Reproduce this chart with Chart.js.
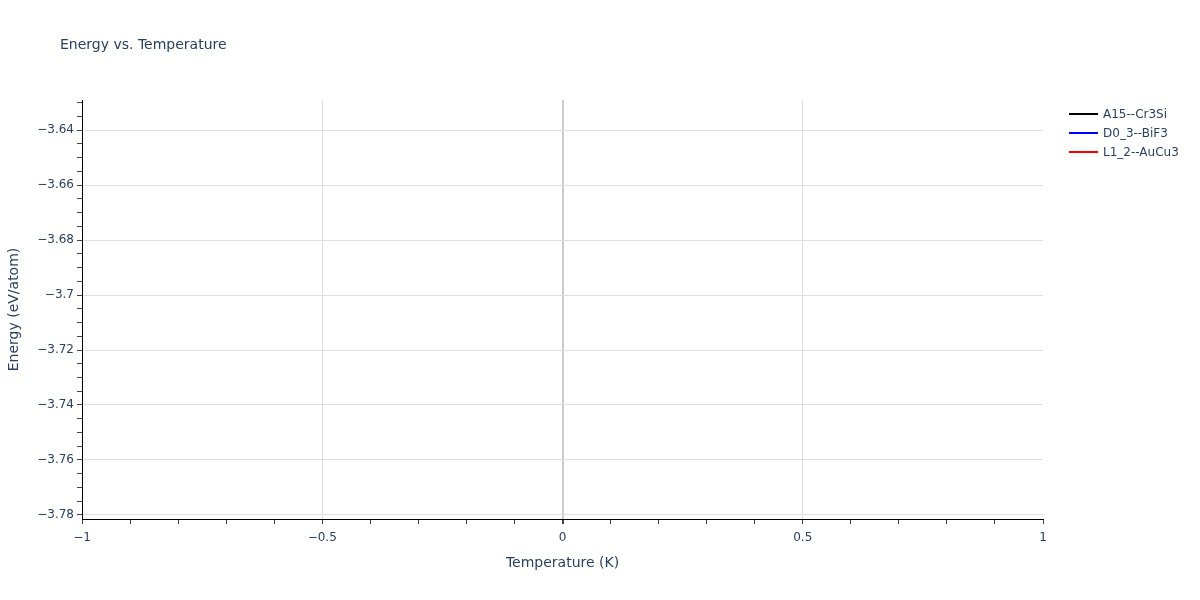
<!DOCTYPE html>
<html>
<head>
<meta charset="utf-8">
<title>Energy vs. Temperature</title>
<script src="https://cdn.jsdelivr.net/npm/chart.js@4"></script>
<style>
    body { margin: 0; background: #fff; }
    #wrap { width: 1200px; height: 600px; position: relative; }
</style>
</head>
<body>
<div id="wrap"><canvas id="energyChart"></canvas></div>
<script>
// series: one point each at T = 0 (lines only, so nothing shows)
const seriesNames = ['A15--Cr3Si', 'D0_3--BiF3', 'L1_2--AuCu3'];
const seriesColors = ['#000000', '#0000ff', '#ff0000'];
const temperatures = [0];
const energyA15 = [-3.7746];
const energyD03 = [-3.6359];
const energyL12 = [-3.7053];

// axes
const xRange = [-1, 1];
const yRange = [-3.7815, -3.629];
const xTickLabels = [-1, -0.5, 0, 0.5, 1];
const yTickLabels = [-3.78, -3.76, -3.74, -3.72, -3.7, -3.68, -3.66, -3.64];
const xMinorStep = 0.1;
const yMinorStep = 0.005;

const textColor = '#2a3f5f';
const fontFamily = '"DejaVu Sans", Verdana, sans-serif';

function toPoints(xs, ys) {
    return xs.map((x, i) => ({ x: x, y: ys[i] }));
}

function isMajor(v, majors) {
    return majors.some(m => Math.abs(m - v) < 1e-9);
}

function minorTicks(lo, hi, step) {
    const out = [];
    const n = Math.round((hi - lo) / step);
    for (let i = 0; i <= n; i++) {
        out.push({ value: Math.round((lo + i * step) * 10000) / 10000 });
    }
    return out;
}

function fmt(v) {
    const s = String(parseFloat(Math.abs(v).toFixed(3)));
    return v < -1e-9 ? '\u2212' + s : s;
}

const energyValues = [energyA15, energyD03, energyL12];

// title + legend drawn like plotly's
const overlayPlugin = {
    id: 'overlay',
    afterDraw(chart) {
        const ctx = chart.ctx;
        ctx.save();
        ctx.fillStyle = textColor;
        ctx.textBaseline = 'middle';
        ctx.textAlign = 'left';
        ctx.font = '14px ' + fontFamily;
        ctx.fillText('Energy vs. Temperature', 60, 45);

        ctx.font = '12px ' + fontFamily;
        chart.data.datasets.forEach((ds, i) => {
            const y = 114 + i * 19;
            ctx.strokeStyle = ds.borderColor;
            ctx.lineWidth = 2;
            ctx.beginPath();
            ctx.moveTo(1069, y);
            ctx.lineTo(1098, y);
            ctx.stroke();
            ctx.fillStyle = textColor;
            ctx.fillText(ds.label, 1103, y + 1);
        });
        ctx.restore();
    }
};

const ctx = document.getElementById('energyChart').getContext('2d');
new Chart(ctx, {
    type: 'scatter',
    data: {
        datasets: seriesNames.map((name, i) => ({
            label: name,
            data: toPoints(temperatures, energyValues[i]),
            borderColor: seriesColors[i],
            backgroundColor: seriesColors[i],
            showLine: true,
            borderWidth: 2,
            pointRadius: 0
        }))
    },
    options: {
        responsive: true,
        maintainAspectRatio: false,
        animation: false,
        layout: { padding: { left: 0, top: 100, right: 157, bottom: 0 } },
        plugins: {
            legend: { display: false },
            title: { display: false },
            tooltip: { enabled: false }
        },
        scales: {
            x: {
                type: 'linear',
                min: xRange[0],
                max: xRange[1],
                afterFit: function (scale) { scale.height = 81; },
                afterBuildTicks: function (scale) {
                    scale.ticks = minorTicks(xRange[0], xRange[1], xMinorStep);
                },
                border: { display: true, color: '#000000', width: 1 },
                grid: {
                    drawTicks: true,
                    tickLength: 5,
                    tickColor: '#444444',
                    color: function (c) {
                        const v = c.tick ? c.tick.value : 0;
                        if (!isMajor(v, xTickLabels)) return 'rgba(0,0,0,0)';
                        if (Math.abs(v - xRange[0]) < 1e-9 || Math.abs(v - xRange[1]) < 1e-9) return 'rgba(0,0,0,0)';
                        if (Math.abs(v) < 1e-9) return '#cccccc';
                        return '#dedede';
                    },
                    lineWidth: function (c) {
                        const v = c.tick ? c.tick.value : 1;
                        return Math.abs(v) < 1e-9 ? 2 : 1;
                    }
                },
                ticks: {
                    autoSkip: false,
                    maxRotation: 0,
                    padding: 7,
                    color: textColor,
                    font: { family: fontFamily, size: 12 },
                    callback: function (v) { return isMajor(v, xTickLabels) ? fmt(v) : ''; }
                },
                title: {
                    display: true,
                    text: 'Temperature (K)',
                    color: textColor,
                    font: { family: fontFamily, size: 14 },
                    padding: { top: 0, bottom: 28.6 }
                }
            },
            y: {
                type: 'linear',
                min: yRange[0],
                max: yRange[1],
                afterFit: function (scale) { scale.width = 82; },
                afterBuildTicks: function (scale) {
                    scale.ticks = minorTicks(-3.78, -3.63, yMinorStep);
                },
                border: { display: true, color: '#000000', width: 1 },
                grid: {
                    drawTicks: true,
                    tickLength: 5,
                    tickColor: '#444444',
                    color: function (c) {
                        const v = c.tick ? c.tick.value : 0;
                        return isMajor(v, yTickLabels) ? '#dedede' : 'rgba(0,0,0,0)';
                    }
                },
                ticks: {
                    autoSkip: false,
                    padding: 3,
                    color: textColor,
                    font: { family: fontFamily, size: 12 },
                    callback: function (v) { return isMajor(v, yTickLabels) ? fmt(v) : ''; }
                },
                title: {
                    display: true,
                    text: 'Energy (eV/atom)',
                    color: textColor,
                    font: { family: fontFamily, size: 14 },
                    padding: { top: 5.6, bottom: 0 }
                }
            }
        }
    },
    plugins: [overlayPlugin]
});
</script>
</body>
</html>
